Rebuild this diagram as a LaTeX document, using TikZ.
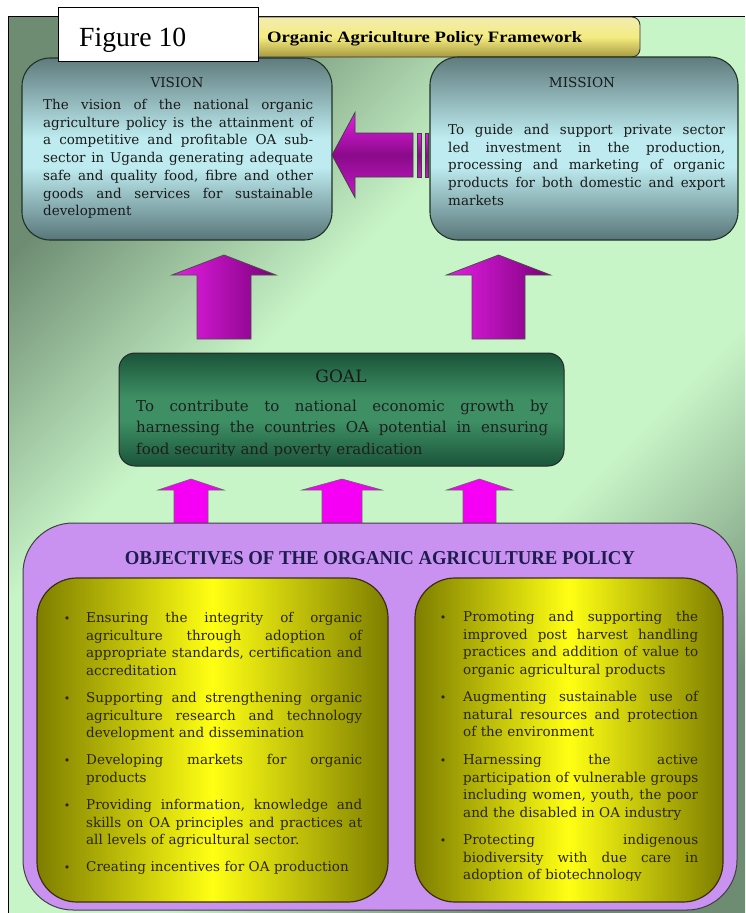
\documentclass[tikz,border=0pt]{standalone}
\usepackage{fontspec}
\usepackage{graphicx}
\setmainfont{DejaVu Serif}
\newfontfamily\headfont{Liberation Serif}
\usetikzlibrary{calc}

% palette
\definecolor{pandark}{HTML}{6E8C72}
\definecolor{panlight}{HTML}{C8F5C8}
\definecolor{slatetop}{HTML}{5F7B7D}
\definecolor{slatemid}{HTML}{BDEBEF}
\definecolor{slatebot}{HTML}{587679}
\definecolor{goaldark}{HTML}{1A5439}
\definecolor{goalmid}{HTML}{3E9064}
\definecolor{lav}{HTML}{CA92F0}
\definecolor{olivedark}{HTML}{7E7E00}
\definecolor{brightyel}{HTML}{FFFF14}
\definecolor{bannertop}{HTML}{F2ECB0}
\definecolor{bannermid}{HTML}{F4EC80}
\definecolor{bannerbot}{HTML}{A89A40}
\definecolor{magbright}{HTML}{E61EE6}
\definecolor{magdark}{HTML}{7A007A}
\definecolor{magmid}{HTML}{8A0A8A}
\definecolor{magflat}{HTML}{F500F5}
\definecolor{navytxt}{HTML}{1C1C4E}
\definecolor{edgedark}{HTML}{1F3326}
\definecolor{txtdark}{HTML}{1A1A1A}
\definecolor{yeltxt}{HTML}{2A2600}
\definecolor{yeledge}{HTML}{3A2E10}

% shadings (the path box maps onto 25bp..75bp)
\pgfdeclareverticalshading{panelsh}{100bp}{color(0bp)=(pandark); color(25bp)=(pandark); color(40bp)=(panlight); color(60bp)=(panlight); color(75bp)=(pandark); color(100bp)=(pandark)}
\pgfdeclareverticalshading{slatesh}{100bp}{color(0bp)=(slatebot); color(25bp)=(slatebot); color(45bp)=(slatemid); color(53bp)=(slatemid); color(75bp)=(slatetop); color(100bp)=(slatetop)}
\pgfdeclareverticalshading{goalsh}{100bp}{color(0bp)=(goaldark); color(25bp)=(goaldark); color(45bp)=(goalmid); color(55bp)=(goalmid); color(75bp)=(goaldark); color(100bp)=(goaldark)}
\pgfdeclarehorizontalshading{yelsh}{100bp}{color(0bp)=(olivedark); color(25bp)=(olivedark); color(50bp)=(brightyel); color(75bp)=(olivedark); color(100bp)=(olivedark)}

% one justified line of width \jw: words spread with \hfill
\newlength\jw
\def\jlloop#1 #2\jlend{#1\ifx\relax#2\relax\else\hfill\jlloop#2\jlend\fi}
\newcommand\jl[1]{\leavevmode\setbox0=\hbox{#1}%
  \ifdim\wd0>\jw\resizebox{\jw}{\height}{\box0}\else\hbox to\jw{\jlloop#1 \jlend}\fi}

% block arrow pointing up: options, tail, tip, shaft half width, head half width, head length
\newcommand\uparrowshape[6]{%
  \path[#1] let \p1=(#2), \p2=(#3) in
    (\x1-#4,\y1) -- (\x1-#4,\y2-#6) -- (\x1-#5,\y2-#6) -- (\x1,\y2) --
    (\x1+#5,\y2-#6) -- (\x1+#4,\y2-#6) -- (\x1+#4,\y1) -- cycle;}
% block arrow pointing left
\newcommand\leftarrowshape[6]{%
  \path[#1] let \p1=(#2), \p2=(#3) in
    (\x1,\y1+#4) -- (\x2+#6,\y1+#4) -- (\x2+#6,\y1+#5) -- (\x2,\y2) --
    (\x2+#6,\y1-#5) -- (\x2+#6,\y1-#4) -- (\x1,\y1-#4) -- cycle;}

\begin{document}
\begin{tikzpicture}[x=1pt,y=-1pt,
  boxline/.style={draw=edgedark, line width=1.1pt},
  slatebox/.style={boxline, rounded corners=28pt, shade, shading=slatesh, inner sep=0},
  goalbox/.style={draw=black!85, line width=1pt, rounded corners=16pt, shade, shading=goalsh, inner sep=0},
  lavbox/.style={draw=black!75, line width=1pt, rounded corners=50pt, fill=lav, inner sep=0},
  yelbox/.style={draw=yeledge, line width=1.2pt, rounded corners=40pt, shade, shading=yelsh, inner sep=0},
  bannerbox/.style={draw=black!80, line width=0.9pt, rounded corners=8pt, top color=bannertop, bottom color=bannerbot, middle color=bannermid, inner sep=0},
  bigarrow/.style={draw=black!70, line width=0.8pt, left color=magbright, right color=magdark},
  smallarrow/.style={draw=black!60, line width=0.6pt, fill=magflat},
  sidearrow/.style={draw=black!75, line width=0.8pt, top color=magbright, bottom color=magbright!85!black, middle color=magmid},
  label/.style={inner sep=0, anchor=base, text=txtdark, font=\fontsize{13.6}{16}\selectfont},
  body/.style={inner sep=0, anchor=base west, align=left, text=txtdark, font=\fontsize{13.5}{17.7}\selectfont},
  yelbody/.style={body, text=yeltxt},
  dot/.style={inner sep=0, anchor=base, text=yeltxt, font=\fontsize{11}{12}\selectfont}]

\useasboundingbox (0,0) rectangle (745,913);
\fill[white] (0,0) rectangle (745,913);

% green backdrop panel
\path[shade, shading=panelsh, shading angle=45] (8,16) rectangle (745,913);
\draw[black, line width=0.8pt] (8,913) -- (8,16) -- (745,16);

% title banner
\node[bannerbox, minimum width=440pt, minimum height=40pt] (banner) at (420,37) {};
\node[inner sep=0, anchor=base west, text=black] (bannertitle) at (267,42.5)
  {\resizebox{315pt}{11pt}{\headfont\bfseries Organic Agriculture Policy Framework}};

% vision and mission
\node[slatebox, minimum width=310pt, minimum height=182pt] (vision) at (177,149) {};
\node[slatebox, minimum width=308pt, minimum height=183pt] (mission) at (584,148.5) {};

% figure label
\node[draw=black, fill=white, line width=0.8pt, minimum width=200pt, minimum height=54pt, inner sep=0] (figbox) at (158,34) {};
\node[inner sep=0, anchor=base west] (figtext) at (79,46)
  {\resizebox{107pt}{!}{\headfont Figure 10}};

\node[label] (vislabel) at (177,87) {VISION};
\node[body, text width=270pt] (vistext) at (43,109.5)
  {\jw=270pt
   \jl{The vision of the national organic}\\
   \jl{agriculture policy is the attainment of}\\
   \jl{a competitive and profitable OA sub-}\\
   \jl{sector in Uganda generating adequate}\\
   \jl{safe and quality food, fibre and other}\\
   \jl{goods and services for sustainable}\\
   development};

\node[label] (mislabel) at (582,87) {MISSION};
\node[body, text width=277pt] (mistext) at (448,134.5)
  {\jw=277pt
   \jl{To guide and support private sector}\\
   \jl{led investment in the production,}\\
   \jl{processing and marketing of organic}\\
   \jl{products for both domestic and export}\\
   markets};

% mission feeds vision
\coordinate (sidetail) at (413,155);
\coordinate (sidetip) at (332,155);
\leftarrowshape{sidearrow}{sidetail}{sidetip}{22pt}{42.5pt}{23pt}
\path[sidearrow] (417,133) rectangle (421,177);
\path[sidearrow] (425,133) rectangle (428,177);

% goal feeds vision and mission
\coordinate (gv-tail) at (224,339);
\coordinate (gv-tip) at (224,255);
\coordinate (gm-tail) at (498.5,339);
\coordinate (gm-tip) at (498.5,255);
\uparrowshape{bigarrow}{gv-tail}{gv-tip}{27pt}{52pt}{20pt}
\uparrowshape{bigarrow}{gm-tail}{gm-tip}{26.5pt}{52pt}{20pt}

% objectives feed goal
\coordinate (o1-tail) at (191,530);
\coordinate (o1-tip) at (191,479);
\coordinate (o2-tail) at (342,530);
\coordinate (o2-tip) at (342,479);
\coordinate (o3-tail) at (479.5,530);
\coordinate (o3-tip) at (479.5,479);
\uparrowshape{smallarrow}{o1-tail}{o1-tip}{17pt}{33pt}{11pt}
\uparrowshape{smallarrow}{o2-tail}{o2-tip}{20pt}{40pt}{11pt}
\uparrowshape{smallarrow}{o3-tail}{o3-tip}{16.5pt}{33pt}{11pt}

% goal
\node[goalbox, minimum width=445pt, minimum height=113pt] (goal) at (341.5,409.5) {};
\node[inner sep=0, anchor=base, text=black!90, font=\fontsize{17}{20}\selectfont] (goallabel) at (341,382) {GOAL};
\begin{scope}
  \clip (100,340) rectangle (600,455);
  \node[body, text=black!88, text width=412pt, font=\fontsize{15}{21.5}\selectfont] (goaltext) at (136,411)
    {\jw=412pt
     \jl{To contribute to national economic growth by}\\
     \jl{harnessing the countries OA potential in ensuring}\\
     food security and poverty eradication};
\end{scope}

% objectives
\node[lavbox, minimum width=714pt, minimum height=387pt] (objectives) at (380,716.5) {};
\node[inner sep=0, anchor=base, text=navytxt] (objtitle) at (380,564.5)
  {\resizebox{510pt}{13pt}{\headfont\bfseries OBJECTIVES OF THE ORGANIC AGRICULTURE POLICY}};

\node[yelbox, minimum width=351pt, minimum height=324pt] (leftobj) at (212.5,740) {};
\node[yelbox, minimum width=308pt, minimum height=324pt] (rightobj) at (569,740) {};

% left column
\node[dot] (lb1) at (67,622.5) {\textbullet};
\node[yelbody, text width=276pt] (l1) at (86,622.5)
  {\jw=276pt
   \jl{Ensuring the integrity of organic}\\
   \jl{agriculture through adoption of}\\
   \jl{appropriate standards, certification and}\\
   accreditation};
\node[dot] (lb2) at (67,702.5) {\textbullet};
\node[yelbody, text width=276pt] (l2) at (86,702.5)
  {\jw=276pt
   \jl{Supporting and strengthening organic}\\
   \jl{agriculture research and technology}\\
   development and dissemination};
\node[dot] (lb3) at (67,764.5) {\textbullet};
\node[yelbody, text width=276pt] (l3) at (86,764.5)
  {\jw=276pt
   \jl{Developing markets for organic}\\
   products};
\node[dot] (lb4) at (67,809.5) {\textbullet};
\node[yelbody, text width=276pt] (l4) at (86,809.5)
  {\jw=276pt
   \jl{Providing information, knowledge and}\\
   \jl{skills on OA principles and practices at}\\
   all levels of agricultural sector.};
\node[dot] (lb5) at (67,871.5) {\textbullet};
\node[yelbody, text width=276pt] (l5) at (86,871.5)
  {Creating incentives for OA production};

% right column
\begin{scope}
  \clip (400,560) rectangle (740,880);
  \node[dot] (rb1) at (443,621.5) {\textbullet};
  \node[yelbody, text width=235pt] (r1) at (463,621.5)
    {\jw=235pt
     \jl{Promoting and supporting the}\\
     \jl{improved post harvest handling}\\
     \jl{practices and addition of value to}\\
     organic agricultural products};
  \node[dot] (rb2) at (443,701.5) {\textbullet};
  \node[yelbody, text width=235pt] (r2) at (463,701.5)
    {\jw=235pt
     \jl{Augmenting sustainable use of}\\
     \jl{natural resources and protection}\\
     of the environment};
  \node[dot] (rb3) at (443,764.5) {\textbullet};
  \node[yelbody, text width=235pt] (r3) at (463,764.5)
    {\jw=235pt
     \jl{Harnessing the active}\\
     \jl{participation of vulnerable groups}\\
     \jl{including women, youth, the poor}\\
     and the disabled in OA industry};
  \node[dot] (rb4) at (443,844.5) {\textbullet};
  \node[yelbody, text width=235pt] (r4) at (463,844.5)
    {\jw=235pt
     \jl{Protecting indigenous}\\
     \jl{biodiversity with due care in}\\
     adoption of biotechnology};
\end{scope}

\end{tikzpicture}
\end{document}
